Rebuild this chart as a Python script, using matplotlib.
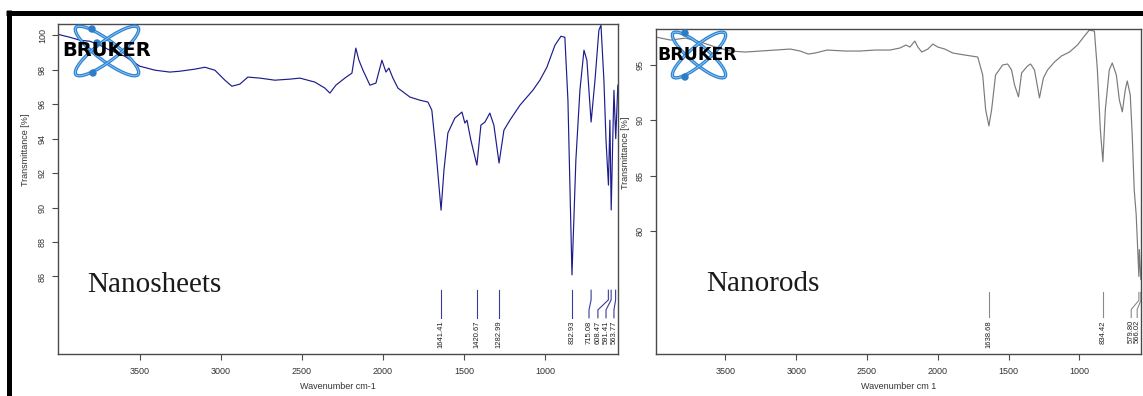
import matplotlib
matplotlib.use('Agg')
import matplotlib.pyplot as plt
from matplotlib.patches import Ellipse, Circle
from matplotlib.lines import Line2D

# ---------------- data ----------------
sheets_wn = [4005, 3932, 3870, 3809, 3747, 3685, 3593, 3500, 3407, 3315, 3253, 3160, 3099, 3037,
             2975, 2932, 2883, 2833, 2759, 2667, 2574, 2512, 2420, 2358, 2327, 2290, 2235, 2191,
             2167, 2148, 2123, 2080, 2043, 2006, 1981, 1963, 1938, 1907, 1833, 1772, 1722, 1698,
             1673, 1641, 1623, 1599, 1556, 1512, 1494, 1481, 1457, 1420, 1395, 1370, 1340, 1315,
             1283, 1253, 1216, 1154, 1074, 1031, 988, 938, 901, 877, 858, 833, 809, 784, 759, 741,
             715, 691, 667, 654, 636, 623, 608, 599, 591, 580, 574, 563, 550]
sheets_T = [100.05, 99.88, 99.71, 99.65, 99.42, 99.13, 98.78, 98.2, 97.97, 97.86, 97.91, 98.03, 98.14, 97.97,
            97.39, 97.04, 97.16, 97.57, 97.51, 97.39, 97.45, 97.51, 97.28, 96.93, 96.64, 97.1, 97.51, 97.80,
            99.25, 98.55, 97.97, 97.10, 97.22, 98.55, 97.86, 98.09, 97.51, 96.93, 96.41, 96.23, 96.12, 95.65,
            93.33, 89.85, 92.17, 94.32, 95.19, 95.54, 94.9, 95.07, 93.91, 92.46, 94.78, 94.96, 95.48, 94.78,
            92.58, 94.49, 95.07, 95.94, 96.81, 97.39, 98.14, 99.42, 99.94, 99.88, 96.23, 86.09, 92.75, 96.81, 99.13, 98.55,
            94.96, 97.39, 100.29, 100.58, 97.39, 93.91, 91.3, 95.07, 89.86, 94.5, 96.8, 94.0, 97.1]

rods_wn = [3990, 3887, 3782, 3676, 3570, 3465, 3359, 3254, 3148, 3042, 2972, 2915, 2866, 2782,
           2655, 2549, 2444, 2338, 2268, 2225, 2197, 2162, 2141, 2113, 2070, 2035, 2000, 1951,
           1894, 1810, 1718, 1683, 1662, 1639, 1620, 1592, 1542, 1507, 1479, 1458, 1430, 1408,
           1366, 1345, 1317, 1282, 1254, 1225, 1176, 1127, 1070, 1014, 965, 930, 894, 873, 852,
           834, 817, 789, 768, 739, 718, 697, 676, 662, 641, 627, 613, 599, 580, 577, 566]
rods_T = [97.52, 97.25, 97.43, 97.07, 96.62, 96.26, 96.17, 96.26, 96.35, 96.44, 96.26, 95.99, 96.08, 96.35,
          96.26, 96.26, 96.35, 96.35, 96.53, 96.8, 96.62, 97.16, 96.62, 96.17, 96.44, 96.89, 96.62, 96.44,
          96.08, 95.9, 95.72, 94.1, 90.95, 89.5, 90.95, 94.1, 95.0, 95.09, 94.55, 93.2, 92.12, 94.28,
          94.91, 95.09, 94.55, 92.03, 93.83, 94.55, 95.27, 95.81, 96.17, 96.8, 97.61, 98.15, 98.06, 94.55, 89.14,
          86.26, 90.95, 94.55, 95.18, 94.1, 91.85, 90.77, 92.75, 93.56, 92.3, 88.69, 83.74, 81.49, 75.9, 78.33, 75.63]

sheets_peaks = [1641.41, 1420.67, 1282.99, 832.93, 715.08, 608.47, 591.41, 563.77]
rods_peaks = [1638.68, 834.42, 579.80, 566.02]

x_ticks = [3500, 3000, 2500, 2000, 1500, 1000]
sheets_yticks = [86, 88, 90, 92, 94, 96, 98, 100]
rods_yticks = [80, 85, 90, 95]

# --------------- layout ---------------
W, H = 1143, 396
fig = plt.figure(figsize=(W / 100, H / 100), dpi=100)
fig.patch.set_facecolor('white')

def px_axes(x0, y0, x1, y1):
    return fig.add_axes([x0 / W, 1 - y1 / H, (x1 - x0) / W, (y1 - y0) / H])

ax1 = px_axes(58, 24, 618, 354)
ax2 = px_axes(656, 29, 1141, 354)

tick_font = dict(family='Liberation Sans', size=6.5)
grey_txt = '#333333'

def style(ax, xlim, ylim, yticks, ylabel_x, ylabel_y):
    ax.set_xlim(*xlim)
    ax.set_ylim(*ylim)
    ax.set_xticks(x_ticks)
    ax.set_yticks(yticks)
    for s in ax.spines.values():
        s.set_color('#4a4a4a')
        s.set_linewidth(1.0)
    ax.tick_params(axis='both', direction='out', length=4, width=0.8, color='#4a4a4a',
                   labelsize=6.5, labelcolor=grey_txt, pad=5)
    ax.tick_params(axis='y', labelrotation=90, pad=4)
    for lab in ax.get_yticklabels():
        lab.set_va('center')
        lab.set_family('Liberation Sans')
    for lab in ax.get_xticklabels():
        lab.set_family('Liberation Sans')
    ax.set_ylabel('Transmittance [%]', fontdict=tick_font, color=grey_txt)
    ax.yaxis.set_label_coords(ylabel_x, ylabel_y)

style(ax1, (4005, 549), (81.5, 100.65), sheets_yticks, -0.05, 0.62)
style(ax2, (3990, 565), (68.9, 98.25), rods_yticks, -0.0536, 0.62)
ax1.set_xlabel('Wavenumber cm-1', fontdict=tick_font, color=grey_txt, labelpad=5)
ax2.set_xlabel('Wavenumber cm 1', fontdict=tick_font, color=grey_txt, labelpad=5)

# spectra
ax1.plot(sheets_wn, sheets_T, color='#1c1c8c', lw=0.85)
ax2.plot(rods_wn, rods_T, color='#7a7a7a', lw=0.85)

# peak markers
def peak_marks(ax, peaks, label_pos, ys, y_text, color):
    for p, lp in zip(peaks, label_pos):
        ax.plot([p, p, lp, lp], ys, color=color, lw=0.8, clip_on=False)
        ax.text(lp, y_text, f"{p:.2f}", rotation=90, ha='center', va='top',
                fontsize=5.5, family='Liberation Sans', color='#222222', clip_on=False)

sheets_label_pos = [1641.41, 1420.67, 1282.99, 832.93, 728, 673, 623, 574]
peak_marks(ax1, sheets_peaks, sheets_label_pos, [85.2, 84.64, 84.06, 83.6], 83.45, '#3a3a9c')
rods_label_pos = [1638.68, 834.42, 634, 592]
peak_marks(ax2, rods_peaks, rods_label_pos, [74.46, 73.74, 72.93, 72.2], 71.95, '#8a8a8a')

# sample names
ax1.text(3827, 85.5, 'Nanosheets', family='Liberation Serif', fontsize=21,
         color='#1a1a1a', ha='left', va='center')
ax2.text(3634, 75.2, 'Nanorods', family='Liberation Serif', fontsize=21,
         color='#1a1a1a', ha='left', va='center')

# --------------- overlay (frame + logos) ---------------
ov = fig.add_axes([0, 0, 1, 1], zorder=10)
ov.set_xlim(0, W)
ov.set_ylim(H, 0)
ov.axis('off')
ov.patch.set_alpha(0)

bar_lw = 5 * 72 / 100
ov.add_line(Line2D([6, W], [12.5, 12.5], color='black', lw=bar_lw, solid_capstyle='butt'))
ov.add_line(Line2D([8.5, 8.5], [10, H], color='black', lw=bar_lw, solid_capstyle='butt'))

def logo(cx, cy, a, b, ang, tx, ty, fs, dots):
    for sgn in (1, -1):
        ov.add_patch(Ellipse((cx, cy), 2 * a, 2 * b, angle=sgn * ang, fill=False,
                             edgecolor='#2c82d2', lw=2.4))
        ov.add_patch(Ellipse((cx, cy), 2 * a, 2 * b, angle=sgn * ang, fill=False,
                             edgecolor='#8cc4ef', lw=0.7))
    for (dx, dy) in dots:
        ov.add_patch(Circle((dx, dy), 3.0, color='#2c7cc8'))
    ov.text(tx, ty, 'BRUKER', fontsize=fs, fontweight='bold', family='DejaVu Sans',
            color='black', ha='center', va='center')

logo(107, 51, 39, 10, 37, 107, 51, 14, [(92, 29), (93, 73), (97, 43)])
logo(699, 55, 34, 9, 40, 697, 55, 12.5, [(685, 33), (685, 77)])

fig.savefig('out.png', dpi=100, facecolor='white')
